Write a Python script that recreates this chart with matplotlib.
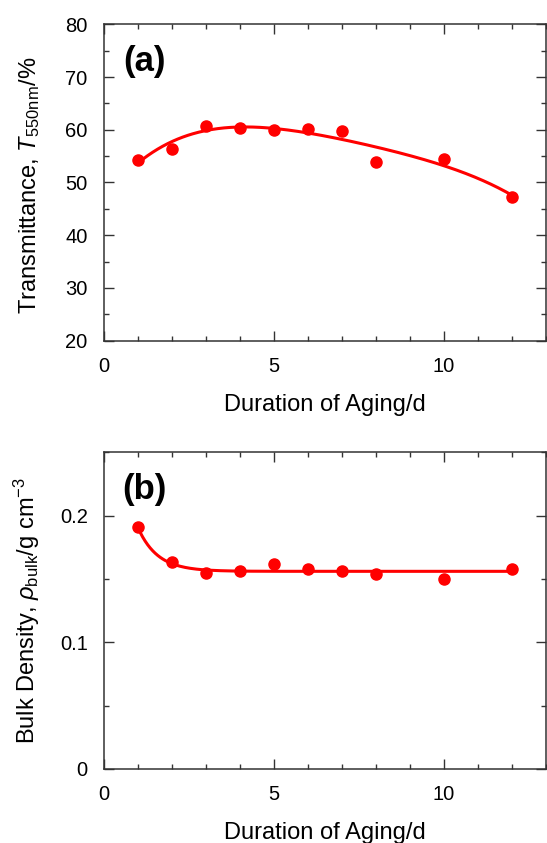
import numpy as np
import matplotlib
matplotlib.use("Agg")
import matplotlib.pyplot as plt
from matplotlib.ticker import MultipleLocator

# aging duration (days)
days = [1, 2, 3, 4, 5, 6, 7, 8, 10, 12]
# (a) transmittance at 550 nm (%)
transmittance = [54.2, 56.3, 60.8, 60.3, 60.0, 60.1, 59.7, 53.8, 54.5, 47.3]
# (b) bulk density (g cm^-3)
bulk_density = [0.191, 0.163, 0.1545, 0.156, 0.1615, 0.158, 0.1563, 0.1542, 0.1502, 0.158]

RED = "#ff0000"
SPINE = "#333333"

plt.rcParams["font.family"] = ["Liberation Sans", "DejaVu Sans"]
plt.rcParams["mathtext.fontset"] = "custom"
plt.rcParams["mathtext.rm"] = "Liberation Sans"
plt.rcParams["mathtext.it"] = "Liberation Sans:italic"


def exp_decay_fit(x, y):
    # y = y0 + A*exp(-(x - x0)/tau); scan tau, solve y0, A by least squares
    x = np.asarray(x, float)
    y = np.asarray(y, float)
    best = None
    for tau in np.linspace(0.2, 5.0, 500):
        basis = np.column_stack([np.ones_like(x), np.exp(-(x - x[0]) / tau)])
        coef, *_ = np.linalg.lstsq(basis, y, rcond=None)
        err = np.sum((basis @ coef - y) ** 2)
        if best is None or err < best[0]:
            best = (err, tau, coef)
    _, tau, coef = best
    return lambda t: coef[0] + coef[1] * np.exp(-(t - x[0]) / tau)


def style_axes(ax):
    for s in ax.spines.values():
        s.set_color(SPINE)
        s.set_linewidth(1.1)
    ax.tick_params(which="both", direction="in", top=True, right=True,
                   color=SPINE, width=1.0, labelsize=14.5)
    ax.tick_params(which="major", length=7, pad=11.5)
    ax.tick_params(which="minor", length=3.5)
    ax.set_xlim(0, 13)
    ax.xaxis.set_major_locator(MultipleLocator(5))
    ax.xaxis.set_minor_locator(MultipleLocator(1))
    ax.set_xlabel("Duration of Aging/d", fontsize=17, labelpad=13)


fig = plt.figure(figsize=(5.47, 8.43), dpi=100)
ax1 = fig.add_axes([0.1894, 0.5959, 0.8088, 0.3753])
ax2 = fig.add_axes([0.1894, 0.0878, 0.8088, 0.3757])

xs = np.linspace(days[0], days[-1], 300)

# (a)
coef = np.polyfit(days, transmittance, 4)
ax1.plot(xs, np.polyval(coef, xs), color=RED, lw=2.2, zorder=2)
ax1.plot(days, transmittance, "o", color=RED, ms=8, zorder=3)
style_axes(ax1)
ax1.set_ylim(20, 80)
ax1.yaxis.set_major_locator(MultipleLocator(10))
ax1.yaxis.set_minor_locator(MultipleLocator(5))
ax1.set_ylabel(r"Transmittance, $\mathit{T}_{\mathrm{550nm}}$/%", fontsize=17)
ax1.yaxis.set_label_coords(-0.139, 0.49)
ax1.text(0.0925, 0.881, "(a)", transform=ax1.transAxes, fontsize=25,
         fontweight="bold", ha="center", va="center")

# (b)
fit_b = exp_decay_fit(days, bulk_density)
ax2.plot(xs, fit_b(xs), color=RED, lw=2.2, zorder=2)
ax2.plot(days, bulk_density, "o", color=RED, ms=8, zorder=3)
style_axes(ax2)
ax2.set_ylim(0, 0.25)
ax2.yaxis.set_major_locator(MultipleLocator(0.1))
ax2.yaxis.set_minor_locator(MultipleLocator(0.05))
ax2.yaxis.set_major_formatter(plt.FuncFormatter(lambda v, p: f"{v:g}"))
ax2.set_ylabel(r"Bulk Density, $\mathit{\rho}_{\mathrm{bulk}}$/g cm$^{\mathrm{-3}}$",
               fontsize=17)
ax2.yaxis.set_label_coords(-0.139, 0.5)
ax2.text(0.0925, 0.881, "(b)", transform=ax2.transAxes, fontsize=25,
         fontweight="bold", ha="center", va="center")

fig.savefig("out.png", dpi=100)
